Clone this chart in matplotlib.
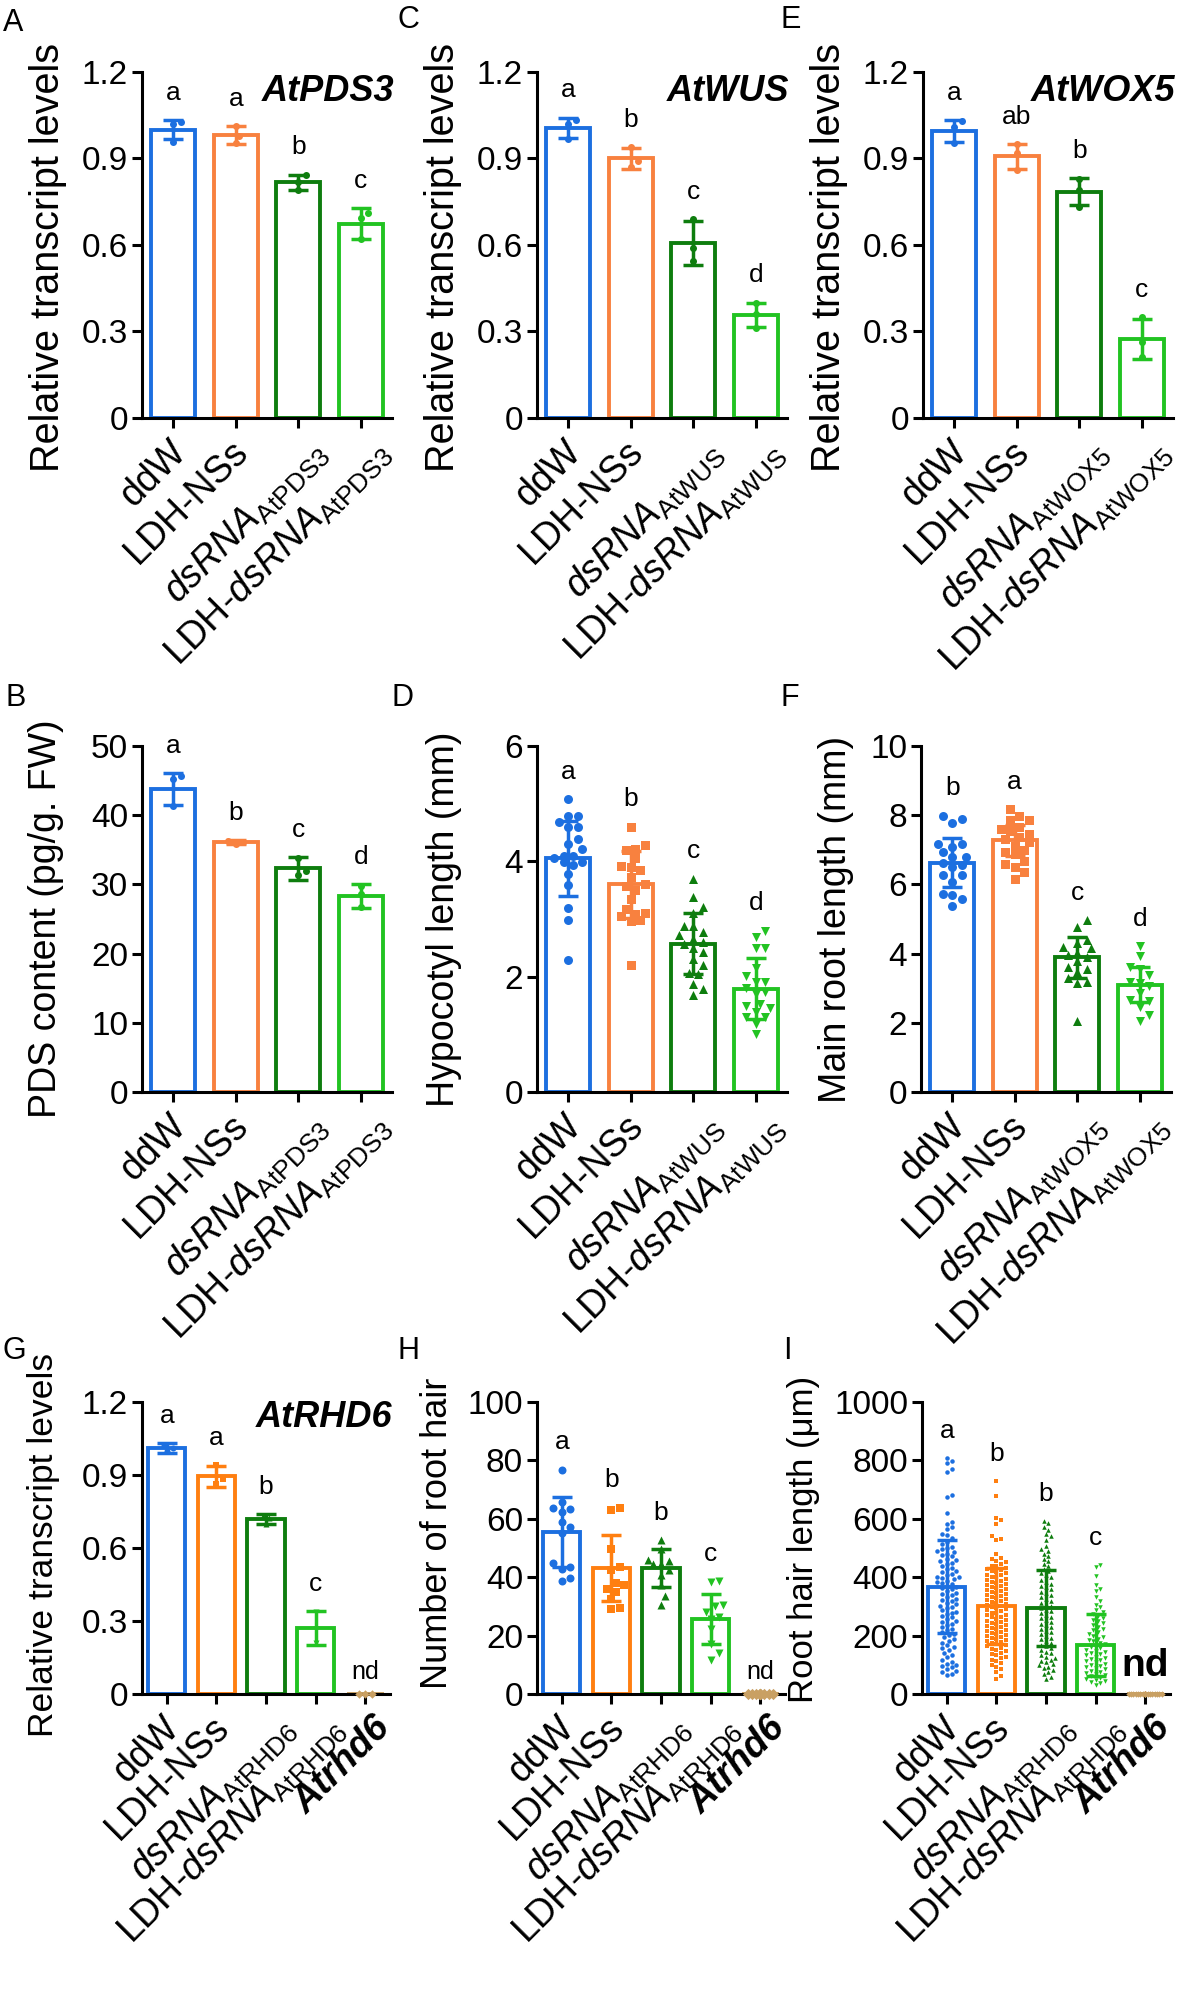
import numpy as np
import matplotlib
matplotlib.use("Agg")
import matplotlib.pyplot as plt
from matplotlib.ticker import FuncFormatter, MultipleLocator
from matplotlib.transforms import ScaledTranslation

plt.rcParams['font.family'] = ['Liberation Sans', 'DejaVu Sans']
plt.rcParams['mathtext.fontset'] = 'custom'
plt.rcParams['mathtext.rm'] = 'Liberation Sans'
plt.rcParams['mathtext.it'] = 'Liberation Sans:italic'
plt.rcParams['mathtext.bf'] = 'Liberation Sans:bold'

# ---- colours
BLUE = '#1c6fe0'
ORANGE = '#f8813f'
ORANGE2 = '#ff7f10'
DGREEN = '#0e7d0e'
LGREEN = '#22c322'
TAN = '#c9a063'

# ---- tick labels
def grp(gene):
    return ['ddW', 'LDH-NSs',
            r'$\mathit{dsRNA}_{\mathrm{%s}}$' % gene,
            r'LDH-$\mathit{dsRNA}_{\mathrm{%s}}$' % gene]

labels_pds = grp('AtPDS3')
labels_wus = grp('AtWUS')
labels_wox = grp('AtWOX5')
labels_rhd = grp('AtRHD6') + ['Atrhd6']

# ---- A: AtPDS3 transcript
a_mean = [1.000, 0.982, 0.818, 0.674]
a_sd = [0.032, 0.031, 0.026, 0.053]
a_pts = [[1.025, 1.020, 0.958], [1.012, 0.978, 0.955],
         [0.842, 0.820, 0.792], [0.712, 0.695, 0.620]]
a_let = ['a', 'a', 'b', 'c']

# ---- B: PDS content
b_mean = [43.8, 36.1, 32.3, 28.3]
b_sd = [2.3, 0.25, 1.6, 1.7]
b_pts = [[45.6, 45.2, 41.4], [36.3, 36.1, 35.9],
         [33.8, 31.9, 31.3], [29.8, 28.6, 26.8]]
b_let = ['a', 'b', 'c', 'd']

# ---- C: AtWUS transcript
c_mean = [1.007, 0.900, 0.606, 0.357]
c_sd = [0.035, 0.036, 0.076, 0.043]
c_pts = [[1.035, 1.020, 0.967], [0.940, 0.890, 0.870],
         [0.690, 0.588, 0.545], [0.399, 0.360, 0.311]]
c_let = ['a', 'b', 'c', 'd']

# ---- D: hypocotyl length
d_mean = [4.05, 3.60, 2.57, 1.79]
d_sd = [0.65, 0.58, 0.53, 0.53]
d_pts = [[5.08, 4.79, 4.79, 4.69, 4.59, 4.59, 4.39, 4.30, 4.21, 4.10,
          4.10, 4.05, 3.98, 3.98, 3.93, 3.78, 3.59, 3.19, 2.99, 2.29],
         [4.60, 4.29, 4.22, 4.19, 4.05, 3.92, 3.90, 3.85, 3.73, 3.60,
          3.58, 3.50, 3.35, 3.18, 3.11, 3.08, 3.06, 2.98, 2.96, 2.20],
         [3.70, 3.38, 3.21, 3.10, 2.88, 2.88, 2.77, 2.72, 2.66, 2.60,
          2.56, 2.49, 2.42, 2.31, 2.20, 2.06, 2.04, 1.88, 1.79, 1.68],
         [2.80, 2.69, 2.49, 2.49, 2.15, 2.02, 1.91, 1.91, 1.80, 1.73,
          1.70, 1.53, 1.50, 1.45, 1.39, 1.30, 1.30, 1.18, 1.01]]
d_let = ['a', 'b', 'c', 'd']

# ---- E: AtWOX5 transcript
e_mean = [0.995, 0.908, 0.785, 0.275]
e_sd = [0.038, 0.043, 0.046, 0.070]
e_pts = [[1.030, 1.010, 0.955], [0.950, 0.918, 0.861],
         [0.830, 0.791, 0.733], [0.350, 0.265, 0.210]]
e_let = ['a', 'ab', 'b', 'c']

# ---- F: main root length
f_mean = [6.63, 7.27, 3.89, 3.10]
f_sd = [0.70, 0.45, 0.60, 0.50]
f_pts = [[7.99, 7.89, 7.77, 7.17, 7.17, 7.08, 6.93, 6.79, 6.79, 6.62,
          6.55, 6.50, 6.26, 6.26, 6.07, 5.73, 5.69, 5.59, 5.37],
         [8.18, 7.99, 7.86, 7.86, 7.67, 7.60, 7.55, 7.46, 7.36, 7.30,
          7.22, 7.10, 6.98, 6.95, 6.88, 6.69, 6.60, 6.50, 6.36, 6.17],
         [4.97, 4.77, 4.39, 4.30, 4.20, 4.15, 4.01, 3.96, 3.91, 3.80,
          3.62, 3.55, 3.48, 3.29, 3.19, 3.14, 2.04],
         [4.22, 3.93, 3.62, 3.55, 3.38, 3.19, 3.15, 3.05, 2.86, 2.67,
          2.62, 2.47, 2.23, 2.04]]
f_let = ['b', 'a', 'c', 'd']

# ---- G: AtRHD6 transcript
g_mean = [1.011, 0.895, 0.718, 0.271, 0.0]
g_sd = [0.020, 0.043, 0.020, 0.070, 0.0]
g_pts = [[1.022, 1.012, 0.998], [0.942, 0.882, 0.861],
         [0.733, 0.722, 0.699], [0.335, 0.268, 0.210], [0, 0, 0]]
g_let = ['a', 'a', 'b', 'c', 'nd']

# ---- H: number of root hair
h_mean = [55.6, 43.1, 43.1, 25.7, 0.0]
h_sd = [12.0, 11.3, 6.4, 8.7, 0.0]
h_pts = [[76.8, 65.7, 63.8, 63.3, 62.5, 59.0, 57.1, 55.1, 45.0, 43.5,
          42.7, 39.7, 38.7],
         [63.8, 63.0, 49.8, 43.6, 42.6, 38.0, 37.3, 35.9, 35.1, 32.5,
          29.6, 29.1],
         [52.7, 49.8, 46.0, 45.5, 44.5, 44.5, 42.6, 40.7, 37.3, 33.4, 30.6],
         [38.3, 38.7, 30.6, 30.1, 28.2, 26.2, 25.7, 22.4, 17.1, 14.2, 11.8],
         [0] * 12]
h_let = ['a', 'b', 'b', 'c', 'nd']

# ---- I: root hair length
i_mean = [368, 301, 295, 168, 0]
i_sd = [160, 130, 130, 105, 0]
i_blue = [808, 797, 791, 772, 760, 683, 675, 621, 589, 583, 571, 565, 549,
          545, 533, 521, 512, 503, 499, 495, 490, 488, 481, 476, 472, 463,
          460, 455, 449, 446, 440, 431, 428, 421, 418, 410, 407, 402, 399,
          397, 393, 388, 384, 380, 377, 371, 368, 362, 359, 352, 347, 344,
          338, 331, 326, 322, 317, 311, 308, 302, 298, 294, 287, 282, 279,
          273, 268, 262, 256, 251, 247, 241, 236, 229, 224, 219, 212, 207,
          201, 196, 189, 183, 176, 168, 162, 157, 149, 141, 133, 126, 118,
          110, 104, 99, 95, 91, 86, 80, 74, 70, 66]
i_orange = [728, 678, 602, 596, 583, 540, 532, 526, 478, 466, 461, 457, 451,
            446, 440, 437, 432, 428, 424, 421, 417, 413, 409, 406, 402, 399,
            395, 392, 388, 384, 381, 377, 374, 370, 367, 363, 360, 356, 353,
            349, 346, 342, 339, 335, 332, 328, 325, 321, 318, 314, 311, 307,
            304, 300, 297, 293, 290, 286, 283, 279, 276, 272, 269, 265, 262,
            258, 255, 251, 248, 244, 241, 237, 234, 230, 227, 223, 220, 216,
            213, 209, 206, 202, 199, 195, 192, 188, 185, 181, 178, 174, 171,
            167, 163, 159, 155, 151, 147, 142, 138, 133, 128, 123, 118, 112,
            106, 99, 92, 84, 74, 62, 51]
i_dgreen = [591, 584, 572, 563, 548, 541, 527, 506, 497, 489, 481, 472, 463,
            455, 446, 438, 429, 421, 414, 406, 399, 392, 385, 378, 371, 365,
            358, 351, 345, 338, 332, 326, 319, 313, 307, 301, 295, 289, 283,
            277, 271, 265, 259, 253, 247, 241, 235, 229, 223, 217, 211, 205,
            199, 193, 187, 181, 175, 169, 163, 157, 151, 145, 139, 133, 128,
            123, 118, 113, 108, 103, 98, 93, 88, 82, 75, 68, 58, 52]
i_lgreen = [441, 436, 404, 372, 361, 353, 331, 319, 306, 297, 289, 281, 274,
            268, 261, 255, 249, 243, 236, 230, 224, 218, 212, 206, 200, 195,
            190, 185, 180, 175, 170, 165, 160, 156, 152, 148, 144, 140, 136,
            132, 128, 124, 120, 116, 112, 108, 104, 100, 96, 92, 88, 84, 80,
            76, 72, 68, 64, 60, 56, 52, 48, 44, 40, 36, 31]
i_mutant = [0] * 30
i_pts = [i_blue, i_orange, i_dgreen, i_lgreen, i_mutant]
i_let = ['a', 'b', 'b', 'c', 'nd']

W, H = 1180, 2012
fig = plt.figure(figsize=(W / 100, H / 100), dpi=100)


def add_axes(left, top, width, height):
    return fig.add_axes([left / W, 1 - (top + height) / H, width / W, height / H])


def swarm(vals, ypx, gap, half):
    # simple beeswarm in pixel space, capped at half width
    xs = np.zeros(len(vals))
    done = []
    step = gap / 2.0
    cands = [0.0]
    k = 1
    while k * step <= half:
        cands += [k * step, -k * step]
        k += 1
    for i in np.argsort(vals, kind='stable'):
        y = vals[i] * ypx
        near = [(x0, y0) for x0, y0 in done if abs(y0 - y) < gap]
        best, best_d = 0.0, -1.0
        for c in cands:
            d = min([np.hypot(c - x0, y - y0) for x0, y0 in near], default=1e9)
            if d >= gap:
                best = c
                break
            if d > best_d:
                best, best_d = c, d
        xs[i] = best
        done.append((best, y))
    return xs


def fmt(v, _):
    if v == 0:
        return '0'
    return f'{v:.1f}' if v < 2 else f'{v:.0f}'


def panel(ax, means, sds, pts, lets, labels, colors, markers, ymax, ystep,
          ylabel, msize, bar_w, ylab_x, ylab_y=0.5, ylab_size=27, gene=None,
          nd_big=False, spread=0.42):
    n = len(means)
    x = np.arange(n)
    ax.set_xlim(-0.5, n - 0.5)
    ax.set_ylim(0, ymax)
    ax.bar(x, means, width=bar_w, facecolor='none', edgecolor=colors,
           linewidth=2.8, zorder=2)
    p0 = ax.transData.transform((0, 0))
    p1 = ax.transData.transform((1, 1))
    xpx, ypx = p1 - p0
    for i in range(n):
        vals = np.asarray(pts[i], float)
        offs = swarm(vals, ypx, msize * 1.05, bar_w * xpx * spread) / xpx
        ax.scatter(i + offs, vals, s=(msize * 0.72) ** 2, marker=markers[i],
                   color=colors[i], linewidths=0, zorder=5, clip_on=False)
        if sds[i] > 0:
            ax.errorbar(i, means[i], yerr=sds[i], color=colors[i],
                        elinewidth=2.5, capsize=7, capthick=2.5, zorder=4)
        top = max(means[i] + sds[i], vals.max())
        if lets[i] == 'nd':
            ax.annotate('nd', (i, 0), xytext=(0, 7), textcoords='offset points',
                        ha='center', va='bottom',
                        fontsize=28 if nd_big else 18,
                        fontweight='bold' if nd_big else 'normal')
        else:
            ax.annotate(lets[i], (i, top), xytext=(0, 11),
                        textcoords='offset points', ha='center', va='bottom',
                        fontsize=19)
    for s in ['top', 'right']:
        ax.spines[s].set_visible(False)
    for s in ['left', 'bottom']:
        ax.spines[s].set_linewidth(2.2)
    ax.yaxis.set_major_locator(MultipleLocator(ystep))
    ax.yaxis.set_major_formatter(FuncFormatter(fmt))
    ax.tick_params(axis='both', direction='out', length=7, width=2.2,
                   labelsize=24, pad=3)
    ax.tick_params(axis='x', pad=4)
    ax.set_xticks(x)
    ax.set_xticklabels(labels, rotation=45, ha='right', va='top',
                       rotation_mode='anchor', fontsize=27)
    for t, lab in zip(ax.get_xticklabels(), labels):
        if lab == 'Atrhd6':
            t.set_fontstyle('italic')
            t.set_fontweight('bold')
            dx = 5
        elif '$' in lab:
            dx = 7
        else:
            dx = -4
        t.set_transform(t.get_transform() +
                        ScaledTranslation(dx / 72, 0, fig.dpi_scale_trans))
    ax.set_ylabel(ylabel, fontsize=ylab_size)
    ax.yaxis.set_label_coords(ylab_x, ylab_y)
    if gene:
        ax.text(1.01, 0.915, gene, transform=ax.transAxes, ha='right',
                va='baseline', fontsize=26, fontweight='bold',
                fontstyle='italic')


cols4 = [BLUE, ORANGE, DGREEN, LGREEN]
cols5 = [BLUE, ORANGE2, DGREEN, LGREEN, TAN]
dots = ['o'] * 5
shapes = ['o', 's', '^', 'v', 'D']

ax = add_axes(142, 72, 250, 346)
panel(ax, a_mean, a_sd, a_pts, a_let, labels_pds, cols4, dots, 1.2, 0.3,
      'Relative transcript levels', 7, 0.7, -0.30, ylab_y=0.465,
      ylab_size=28.5, gene='AtPDS3')
ax = add_axes(537, 72, 250, 346)
panel(ax, c_mean, c_sd, c_pts, c_let, labels_wus, cols4, dots, 1.2, 0.3,
      'Relative transcript levels', 7, 0.7, -0.30, ylab_y=0.465,
      ylab_size=28.5, gene='AtWUS')
ax = add_axes(923, 72, 250, 346)
panel(ax, e_mean, e_sd, e_pts, e_let, labels_wox, cols4, dots, 1.2, 0.3,
      'Relative transcript levels', 7, 0.7, -0.30, ylab_y=0.465,
      ylab_size=28.5, gene='AtWOX5')

ax = add_axes(142, 746, 250, 346)
panel(ax, b_mean, b_sd, b_pts, b_let, labels_pds, cols4, dots, 50, 10,
      'PDS content (pg/g. FW)', 7, 0.7, -0.31)
ax = add_axes(537, 746, 250, 346)
panel(ax, d_mean, d_sd, d_pts, d_let, labels_wus, cols4, shapes, 6, 2,
      'Hypocotyl length (mm)', 9, 0.7, -0.30)
ax = add_axes(921, 746, 250, 346)
panel(ax, f_mean, f_sd, f_pts, f_let, labels_wox, cols4, shapes, 10, 2,
      'Main root length (mm)', 9, 0.7, -0.27)

ax = add_axes(142, 1402, 248, 292)
panel(ax, g_mean, g_sd, g_pts, g_let, labels_rhd, cols5, shapes, 1.2, 0.3,
      'Relative transcript levels', 6, 0.75, -0.33, ylab_y=0.51,
      ylab_size=25.5, gene='AtRHD6')
ax = add_axes(537, 1402, 248, 292)
panel(ax, h_mean, h_sd, h_pts, h_let, labels_rhd, cols5, shapes, 100, 20,
      'Number of root hair', 8, 0.75, -0.33, ylab_y=0.55, ylab_size=26)
ax = add_axes(922, 1402, 248, 292)
panel(ax, i_mean, i_sd, i_pts, i_let, labels_rhd, cols5, shapes, 1000, 200,
      'Root hair length (\u03bcm)', 4.5, 0.75, -0.41, ylab_y=0.53,
      ylab_size=25, nd_big=True, spread=0.48)

for letter, px, py in [('A', 3, 8), ('C', 397, 5), ('E', 781, 5),
                       ('B', 6, 683), ('D', 392, 683), ('F', 781, 683),
                       ('G', 3, 1336), ('H', 398, 1336), ('I', 783, 1336)]:
    fig.text(px / W, 1 - py / H, letter, fontsize=22, ha='left', va='top')

fig.savefig('out.png', dpi=100)
